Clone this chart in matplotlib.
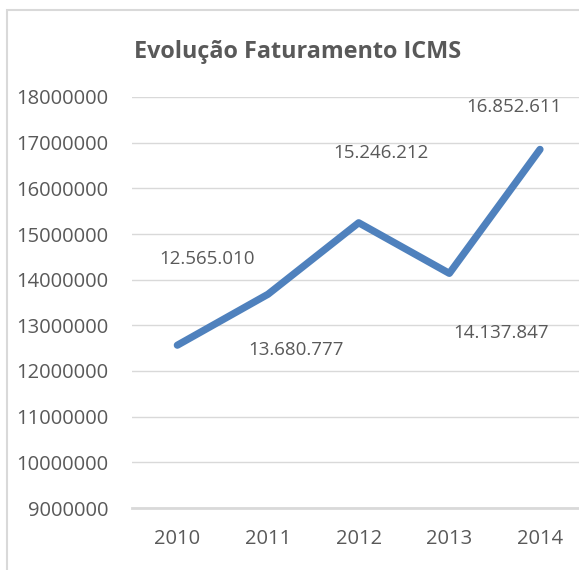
import matplotlib
matplotlib.use("Agg")
import matplotlib.pyplot as plt
from matplotlib.patches import Rectangle

years = ["2010", "2011", "2012", "2013", "2014"]
values = [12565010, 13680777, 15246212, 14137847, 16852611]
value_labels = ["12.565.010", "13.680.777", "15.246.212", "14.137.847", "16.852.611"]
y_ticks = [9000000, 10000000, 11000000, 12000000, 13000000, 14000000,
           15000000, 16000000, 17000000, 18000000]
title = "Evolução Faturamento ICMS"

# label offsets in pixels (style)
offsets = [(30, 86), (28, -56), (22, 70), (52, -60), (-26, 42)]

plt.rcParams['font.family'] = ['Open Sans', 'DejaVu Sans']
txt = '#595959'

W, H = 579, 570
fig = plt.figure(figsize=(W / 100, H / 100), dpi=100)
fig.patch.set_facecolor('white')

# chart border
fig.patches.append(Rectangle((7 / W, -0.1), 1.2, (H - 10) / H + 0.1,
                             transform=fig.transFigure, fill=False,
                             edgecolor='#D9D9D9', linewidth=1.5))

left, right, top, bottom = 132, 579, 97, 508
ax = fig.add_axes([left / W, (H - bottom) / H, (right - left) / W, (bottom - top) / H])
x = list(range(len(years)))
ax.plot(x, values, color='#4F81BD', linewidth=5.2, solid_capstyle='round',
        solid_joinstyle='round', zorder=3)
ax.set_xlim(-0.5, 4.43)
ax.set_ylim(9000000, 18000000)
ax.set_yticks(y_ticks)
ax.set_yticklabels([str(v) for v in y_ticks])
ax.set_xticks(x)
ax.set_xticklabels(years)
ax.grid(axis='y', color='#D9D9D9', linewidth=1.0)
ax.set_axisbelow(True)
for s in ['top', 'right', 'left']:
    ax.spines[s].set_visible(False)
ax.spines['bottom'].set_color('#D9D9D9')
ax.spines['bottom'].set_linewidth(2.0)
ax.tick_params(axis='both', length=0, labelsize=14.5, colors=txt)
ax.tick_params(axis='y', pad=17)
ax.tick_params(axis='x', pad=15)

for xi, v, lab, off in zip(x, values, value_labels, offsets):
    ax.annotate(lab, (xi, v), xytext=off, textcoords='offset pixels',
                ha='center', va='center', fontsize=13.5, color=txt,
                annotation_clip=False)

fig.text(298 / W, (H - 52) / H, title, ha='center', va='center',
         fontsize=16.8, fontweight='bold', color=txt)

fig.savefig('out.png', dpi=100)
